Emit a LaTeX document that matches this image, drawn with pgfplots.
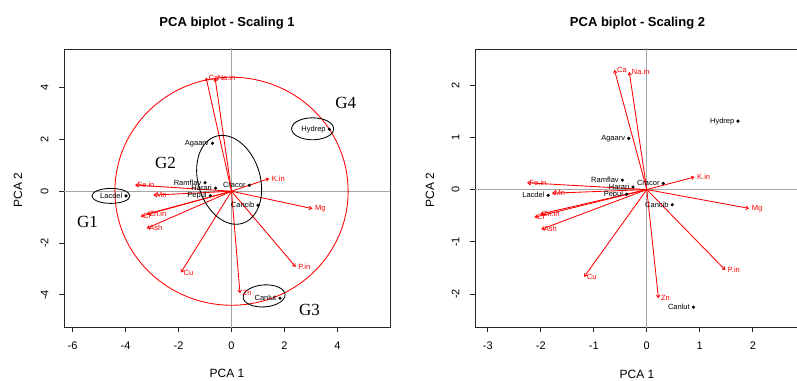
\documentclass[border=0pt]{standalone}
\usepackage{fontspec}
\setmainfont{Liberation Sans}
\newfontfamily\gfont{Liberation Serif}
\usepackage{pgfplots}
\pgfplotsset{compat=1.18}
\usepackage{pgfplotstable}
\usetikzlibrary{shapes.geometric, arrows.meta}

\pgfplotstableread{
x y label
-3.98 -0.18 Lacdel
-0.72 1.85 Agaarv
-1.00 0.33 Ramflav
-0.60 0.12 Harari
-0.80 -0.17 Pepul
0.67 0.23 Cracor
1.00 -0.54 Cancib
3.69 2.39 Hydrep
1.83 -4.13 Canlut
}\ptsA

\pgfplotstableread{
x y u v label
0 0 -0.96 4.39 Ca
0 0 -0.62 4.37 Na.in
0 0 1.42 0.49 K.in
0 0 3.05 -0.67 Mg
0 0 -3.64 0.24 Fe.in
0 0 -2.95 -0.15 Mn
0 0 -3.43 -0.97 Cr
0 0 -3.19 -0.88 Zn.in
0 0 -3.20 -1.43 Ash
0 0 -1.91 -3.14 Cu
0 0 0.32 -3.94 Zn
0 0 2.42 -2.92 P.in
}\arrA

\pgfplotstableread{
x y label
-1.86 -0.11 Lacdel
-0.34 0.98 Agaarv
-0.46 0.18 Ramflav
-0.26 0.05 Harari
-0.38 -0.09 Pepul
0.31 0.12 Cracor
0.48 -0.29 Cancib
1.72 1.31 Hydrep
0.88 -2.25 Canlut
}\ptsB

\pgfplotstableread{
x y u v label
0 0 -0.61 2.29 Ca
0 0 -0.33 2.25 Na.in
0 0 0.90 0.24 K.in
0 0 1.93 -0.36 Mg
0 0 -2.26 0.13 Fe.in
0 0 -1.79 -0.07 Mn
0 0 -2.12 -0.53 Cr
0 0 -2.01 -0.47 Zn.in
0 0 -1.99 -0.76 Ash
0 0 -1.18 -1.67 Cu
0 0 0.22 -2.08 Zn
0 0 1.48 -1.54 P.in
}\arrB

\pgfplotsset{
  pca/.style={
    scale only axis,
    anchor=south west,
    height=278pt,
    axis line style={black!85, line width=0.9pt},
    tick align=outside,
    major tick length=5pt,
    tick style={black!85, line width=0.9pt},
    xtick pos=left, ytick pos=left,
    /pgf/number format/assume math mode=true,
    ticklabel style={font=\fontsize{11}{12}\selectfont},
    xticklabel shift=6pt,
    yticklabel style={rotate=90, anchor=south},
    yticklabel shift=7pt,
  },
  arrowplot/.style={red, line width=0.85pt, -{Straight Barb[length=2.5pt,width=3.5pt]},
    quiver={u=\thisrow{u}, v=\thisrow{v}}},
  arrowlab/.style={only marks, mark=none, nodes near coords, point meta=explicit symbolic,
    nodes near coords style={anchor=west, text=red, inner sep=1pt, xshift=1.5pt,
      font=\fontsize{7.5}{8}\selectfont}},
  ptplot/.style={only marks, mark=*, mark size=1.4pt, black, nodes near coords,
    point meta=explicit symbolic,
    nodes near coords style={anchor=east, text=black, inner sep=1pt, xshift=-2.5pt,
      font=\fontsize{7.5}{8}\selectfont}},
}

\begin{document}
\begin{tikzpicture}
\useasboundingbox (0pt,0pt) rectangle (797pt,380pt);

% ---------- Left: Scaling 1
\begin{axis}[pca, at={(64pt,53pt)}, width=326pt,
  xmin=-6.32, xmax=5.98, ymin=-5.24, ymax=5.49,
  xtick={-6,-4,-2,0,2,4}, ytick={-4,-2,0,2,4}]
  \draw[gray!70, line width=0.8pt] (axis cs:0,-10) -- (axis cs:0,10);
  \draw[gray!70, line width=0.8pt] (axis cs:-10,0) -- (axis cs:10,0);
  \draw[red, line width=0.85pt] (axis cs:0,0) circle [radius=4.4];
  \addplot[arrowplot] table {\arrA};
  \addplot[arrowlab] table[x=u, y=v, meta=label] {\arrA};
  \addplot[ptplot] table[x=x, y=y, meta=label] {\ptsA};
  \node[draw=black, line width=0.85pt, ellipse, minimum width=38pt, minimum height=15pt, inner sep=0pt] at (axis cs:-4.55,-0.18) {};
  \node[draw=black, line width=0.85pt, ellipse, minimum width=62pt, minimum height=91pt, inner sep=0pt, rotate=17] at (axis cs:-0.09,0.44) {};
  \node[draw=black, line width=0.85pt, ellipse, minimum width=42pt, minimum height=22pt, inner sep=0pt, rotate=4] at (axis cs:1.23,-4.04) {};
  \node[draw=black, line width=0.85pt, ellipse, minimum width=42pt, minimum height=22pt, inner sep=0pt] at (axis cs:3.06,2.41) {};
  \node[font=\gfont\fontsize{17}{17}\selectfont] at (axis cs:-5.43,-1.19) {G1};
  \node[font=\gfont\fontsize{17}{17}\selectfont] at (axis cs:-2.49,1.08) {G2};
  \node[font=\gfont\fontsize{17}{17}\selectfont] at (axis cs:2.94,-4.59) {G3};
  \node[font=\gfont\fontsize{17}{17}\selectfont] at (axis cs:4.31,3.42) {G4};
\end{axis}

% ---------- Right: Scaling 2
\begin{axis}[pca, at={(475pt,53pt)}, width=325pt,
  xmin=-3.24, xmax=2.89, ymin=-2.63, ymax=2.69,
  xtick={-3,-2,-1,0,1,2}, ytick={-2,-1,0,1,2}]
  \draw[gray!70, line width=0.8pt] (axis cs:0,-10) -- (axis cs:0,10);
  \draw[gray!70, line width=0.8pt] (axis cs:-10,0) -- (axis cs:10,0);
  \addplot[arrowplot] table {\arrB};
  \addplot[arrowlab] table[x=u, y=v, meta=label] {\arrB};
  \addplot[ptplot] table[x=x, y=y, meta=label] {\ptsB};
\end{axis}

% titles and axis labels
\node[font=\bfseries\fontsize{13}{14}\selectfont] at (227pt,357pt) {PCA biplot - Scaling 1};
\node[font=\bfseries\fontsize{13}{14}\selectfont] at (637.5pt,357pt) {PCA biplot - Scaling 2};
\node[font=\fontsize{12}{13}\selectfont] at (227pt,7pt) {PCA 1};
\node[font=\fontsize{12}{13}\selectfont] at (637pt,6pt) {PCA 1};
\node[font=\fontsize{12}{13}\selectfont, rotate=90] at (18pt,190pt) {PCA 2};
\node[font=\fontsize{12}{13}\selectfont, rotate=90] at (430pt,190pt) {PCA 2};
\end{tikzpicture}
\end{document}
